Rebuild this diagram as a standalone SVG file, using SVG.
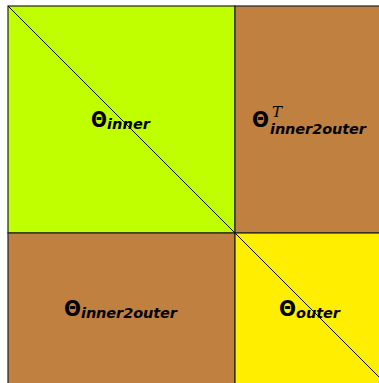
<svg xmlns="http://www.w3.org/2000/svg" width="379" height="383" viewBox="0 0 379 383">
<style>
.cell{stroke:#222;stroke-width:1.2}
.g{fill:#C0FF00}
.b{fill:#C08040}
.y{fill:#FFEE00}
.th{font-family:"DejaVu Sans",sans-serif;font-weight:bold;font-size:21px;fill:#000}
.sub{font-family:"DejaVu Sans",sans-serif;font-weight:bold;font-style:italic;font-size:14.5px;fill:#000}
.sup{font-family:"DejaVu Serif",serif;font-style:italic;font-size:15px;fill:#000}
</style>
<rect x="0" y="0" width="379" height="383" fill="#fff"/>
<g id="inner">
<rect class="cell g" x="8" y="6" width="227" height="227"/>
<text class="th" x="91" y="127" textLength="16" lengthAdjust="spacingAndGlyphs">Θ</text>
<text class="sub" x="107" y="129" textLength="43">inner</text>
</g>
<g id="inner2outerT">
<rect class="cell b" x="235" y="6" width="150" height="227"/>
<text class="th" x="252" y="127" textLength="17" lengthAdjust="spacingAndGlyphs">Θ</text>
<text class="sup" x="272" y="117">T</text>
<text class="sub" x="270" y="134" textLength="96">inner2outer</text>
</g>
<g id="inner2outer">
<rect class="cell b" x="8" y="233" width="227" height="155"/>
<text class="th" x="64" y="316" textLength="17" lengthAdjust="spacingAndGlyphs">Θ</text>
<text class="sub" x="81" y="318" textLength="96">inner2outer</text>
</g>
<g id="outer">
<rect class="cell y" x="235" y="233" width="150" height="155"/>
<text class="th" x="279" y="316" textLength="17" lengthAdjust="spacingAndGlyphs">Θ</text>
<text class="sub" x="296" y="318" textLength="44">outer</text>
</g>
<g id="connectors">
<line x1="8" y1="6" x2="385" y2="383" stroke="#000" stroke-width="1"/>
</g>
</svg>
